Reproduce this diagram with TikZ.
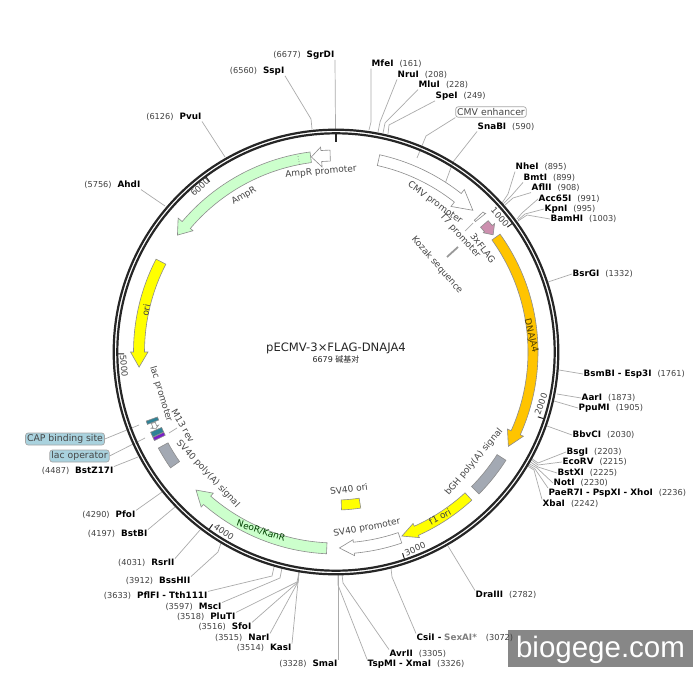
\documentclass[tikz,border=0pt]{standalone}
\usepackage{fontspec}
\setmainfont{DejaVu Sans}
\newfontfamily\cjkf{Noto Sans CJK SC}
\newfontfamily\libf{Liberation Sans}
\definecolor{lgray}{HTML}{ABABAB}
\definecolor{ringc}{HTML}{262626}
\definecolor{txtc}{HTML}{454545}
\definecolor{posc}{HTML}{404040}
\definecolor{fgreen}{HTML}{CCFFCC}
\definecolor{fyellow}{HTML}{FFFF00}
\definecolor{forange}{HTML}{FFC400}
\definecolor{fgray}{HTML}{A3A9B3}
\definecolor{fpink}{HTML}{CC8FAE}
\definecolor{fteal}{HTML}{2F8296}
\definecolor{fpurple}{HTML}{7A1FC8}
\definecolor{boxblue}{HTML}{A9D2DE}
\tikzset{
  lead/.style={draw=lgray,line width=0.7pt},
  feat/.style={draw=black!45,line width=0.6pt,line join=miter},
  ringline/.style={draw=ringc,line width=2.2pt},
  ticka/.style={draw=ringc,line width=1pt},
  enz/.style={inner sep=0.5pt,text=black,font=\fontsize{8.8}{10}\selectfont},
  flab/.style={inner sep=0pt,text=txtc,font=\fontsize{9}{11}\selectfont},
  tlab/.style={inner sep=0pt,text=txtc,font=\fontsize{8.6}{10}\selectfont},
  sitebox/.style={draw=black!35,rounded corners=2.5pt,line width=0.7pt,inner sep=1.5pt,text=txtc,font=\fontsize{9.3}{11}\selectfont,minimum height=10.5pt},
}
\newcommand{\posn}[1]{{\fontsize{8.2}{10}\selectfont\color{posc}(#1)}}
% right-hand label: id, x, y, name, pos
\newcommand{\enzR}[5]{\node[enz,anchor=west] (#1) at (#2,#3) {\textbf{#4}\hspace{6pt}\posn{#5}};}
% left-hand label: id, x, y, name, pos
\newcommand{\enzL}[5]{\node[enz,anchor=east] (#1) at (#2,#3) {\posn{#5}\hspace{6pt}\textbf{#4}};}
% connector: id, node anchor, via points, free end
\newcommand{\lk}[4]{\coordinate (#1-e) at (#4); \draw[lead] (#1.#2) #3 -- (#1-e);}
% arc arrow: colour, a1, a2, a3, Ri, Ro, Rib, Rob, Rm (angles clockwise from top)
\newcommand{\arcarrow}[9]{\draw[feat,fill=#1] ({#2-90}:#6) arc[start angle={#2-90},end angle={#3-90},radius=#6] -- ({#3-90}:#8) -- ({#4-90}:#9) -- ({#3-90}:#7) -- ({#3-90}:#5) arc[start angle={#3-90},end angle={#2-90},radius=#5] -- cycle;}
% arc block: colour, a1, a2, Ri, Ro
\newcommand{\arcblock}[5]{\draw[feat,fill=#1] ({#2-90}:#5) arc[start angle={#2-90},end angle={#3-90},radius=#5] -- ({#3-90}:#4) arc[start angle={#3-90},end angle={#2-90},radius=#4] -- cycle;}
\newcommand{\tickat}[1]{\draw[ticka] ({#1-90}:212) -- ({#1-90}:218);}
\begin{document}
\begin{tikzpicture}[x=1pt,y=-1pt]
\useasboundingbox (0,0) rectangle (700,700);
\fill[white] (0,0) rectangle (700,700);
% watermark
\fill[black!47] (508,630) rectangle (693,667);
\node[inner sep=0pt,text=white,font=\libf\fontsize{29.5}{34}\selectfont] (wm) at (600.5,650) {biogege.com};

% leaders and labels
\enzL{sgrdi}{335}{55}{SgrDI}{6677}\lk{sgrdi}{south east}{}{335.5,129}
\enzL{sspi}{285}{71}{SspI}{6560}\lk{sspi}{south east}{-- (311,119)}{312,129}
\enzL{pvui}{202}{117}{PvuI}{6126}\lk{pvui}{south east}{}{225,157}
\enzL{ahdi}{141}{185}{AhdI}{5756}\lk{ahdi}{south east}{}{165,206}
\enzR{mfei}{371}{64}{MfeI}{161}\lk{mfei}{south west}{-- (371,122)}{369,130}
\enzR{nrui}{397}{75}{NruI}{208}\lk{nrui}{south west}{-- (380,122)}{378,132}
\enzR{mlui}{418}{85}{MluI}{228}\lk{mlui}{south west}{-- (385,123)}{383,133}
\enzR{spei}{435}{96}{SpeI}{249}\lk{spei}{south west}{-- (389,125)}{388,134}
\enzR{snabi}{477}{127}{SnaBI}{590}\lk{snabi}{south west}{-- (453,162)}{442,192}
\enzR{nhei}{515}{167}{NheI}{895}\lk{nhei}{south west}{-- (508,194)}{502,203}
\enzR{bmti}{523}{178}{BmtI}{899}\lk{bmti}{south west}{-- (512,195)}{503,204}
\enzR{aflii}{531}{188}{AflII}{908}\lk{aflii}{south west}{-- (513,198)}{505,205}
\enzR{acc}{538}{199}{Acc65I}{991}\lk{acc}{west}{-- (522,213)}{517,219}
\enzR{kpni}{544}{209}{KpnI}{995}\lk{kpni}{west}{-- (525,214)}{518,220}
\enzR{bamhi}{550}{219}{BamHI}{1003}\lk{bamhi}{west}{-- (527,215)}{518,221}
\enzR{bsrgi}{572}{274}{BsrGI}{1332}\lk{bsrgi}{west}{}{548,282}
\enzR{bsmbi}{583}{374}{BsmBI - Esp3I}{1761}\lk{bsmbi}{west}{}{559,370}
\enzR{aari}{581}{398}{AarI}{1873}\lk{aari}{west}{}{557,394}
\enzR{ppumi}{578}{408}{PpuMI}{1905}\lk{ppumi}{west}{}{554,401}
\enzR{bbvci}{572}{435}{BbvCI}{2030}\lk{bbvci}{west}{}{547,426}
\enzR{bsgi}{566}{452}{BsgI}{2203}\lk{bsgi}{west}{-- (538,463)}{531,458}
\enzR{ecorv}{562}{462}{EcoRV}{2215}\lk{ecorv}{west}{-- (538,465)}{530,459}
\enzR{bstxi}{557}{473}{BstXI}{2225}\lk{bstxi}{west}{-- (538,467)}{529,461}
\enzR{noti}{553}{483}{NotI}{2230}\lk{noti}{west}{-- (537,468)}{528,463}
\enzR{paer}{548}{493}{PaeR7I - PspXI - XhoI}{2236}\lk{paer}{north west}{-- (535,469)}{527,464}
\enzR{xbai}{542}{504}{XbaI}{2242}\lk{xbai}{north west}{-- (534,470)}{526,465}
\enzR{draiii}{475}{595}{DraIII}{2782}\lk{draiii}{north west}{}{448,546}
\node[enz,anchor=west] (csii) at (416,638) {\textbf{CsiI -} \textcolor{black!50}{\textbf{SexAI*}}\hspace{9pt}\posn{3072}};
\lk{csii}{north west}{-- (392,577)}{391,568}
\enzR{avrii}{389}{654}{AvrII}{3305}\lk{avrii}{north west}{-- (343,583)}{342,574}
\enzR{tspmi}{367}{664}{TspMI - XmaI}{3326}\lk{tspmi}{north west}{-- (338,585)}{338,575}
\enzL{smai}{338}{664}{SmaI}{3328}\lk{smai}{north east}{}{338,575}
\enzL{kasi}{292}{648}{KasI}{3514}\lk{kasi}{north east}{-- (298,582)}{299,572}
\enzL{nari}{270}{638}{NarI}{3515}\lk{nari}{north east}{-- (298,582)}{299,572}
\enzL{sfoi}{252}{627}{SfoI}{3516}\lk{sfoi}{north east}{-- (298,582)}{299,572}
\enzL{pluti}{236}{617}{PluTI}{3518}\lk{pluti}{north east}{-- (297,582)}{299,572}
\enzL{msci}{222}{607}{MscI}{3597}\lk{msci}{north east}{-- (280,578)}{282,568}
\enzL{pflfi}{208}{596}{PflFI - Tth111I}{3633}\lk{pflfi}{north east}{-- (272,576)}{274,567}
\enzL{bsshii}{191}{581}{BssHII}{3912}\lk{bsshii}{north east}{-- (218,552)}{221,543}
\enzL{rsrii}{175}{563}{RsrII}{4031}\lk{rsrii}{north east}{}{200,530}
\enzL{bstbi}{148}{534}{BstBI}{4197}\lk{bstbi}{north east}{}{175,507}
\enzL{pfoi}{136}{515}{PfoI}{4290}\lk{pfoi}{north east}{}{162,492}
\enzL{bstz}{114}{471}{BstZ17I}{4487}\lk{bstz}{north east}{}{138,457}

% boxed site labels
\node[sitebox,fill=white,anchor=center] (cmve) at (491,112) {CMV enhancer};
\lk{cmve}{south west}{-- (426,136)}{417,158}
\node[sitebox,fill=boxblue,anchor=center] (cap) at (65,439) {CAP binding site};
\lk{cap}{east}{}{139,425}
\node[sitebox,fill=boxblue,anchor=center] (laco) at (79.5,456) {lac operator};
\lk{laco}{east}{}{145,438}

% backbone
\node[circle,inner sep=0pt,minimum size=0pt] (ctr) at (336,352) {};
\draw[ringline] (ctr) circle[radius=222.3];
\draw[ringline] (ctr) circle[radius=218.7];
\draw[draw=ringc,line width=2pt] (336,133) -- (336,142);

\begin{scope}[shift={(336,352)}]
\tickat{53.9}\tickat{107.8}\tickat{161.7}\tickat{215.6}\tickat{269.5}\tickat{323.4}
% features
\arcarrow{white}{12.5}{38.3}{44}{191}{202}{185.5}{207}{197}
\arcarrow{white}{46.4}{46.9}{47.2}{191}{203}{190.5}{203.5}{204}
\arcarrow{fpink}{49.2}{51}{53.3}{191}{201}{189.5}{204}{196}
\arcarrow{forange}{54.3}{114.2}{118.7}{192}{202}{188}{205.5}{196.5}
\arcblock{fgray}{122.5}{134.8}{191}{201.5}
\arcarrow{fyellow}{137.5}{155.8}{160.3}{191}{201}{188}{203.5}{195.5}
\arcarrow{white}{161}{174.8}{179}{191}{202}{188.5}{204.5}{196}
\arcblock{fyellow}{171}{178}{148}{158}
\arcarrow{fgreen}{182.7}{221}{225.4}{191}{202}{187}{205.5}{196.6}
\arcblock{fgray}{235}{241.6}{191}{202}
\arcblock{fpurple}{244}{245}{190}{202}
\arcblock{fteal}{245.1}{246.6}{190}{202}
\arcarrow{white}{248.8}{247.6}{246.9}{194}{198}{192}{200}{196}
\arcblock{fteal}{249}{250}{190}{202}
\arcarrow{fyellow}{297.3}{270}{265.6}{191.5}{202.5}{188}{205.5}{197.5}
\arcarrow{fgreen}{352.6}{310.3}{306.4}{191}{201.7}{187.5}{207}{197}
\arcarrow{white}{358.3}{355.7}{352.8}{191}{202}{185.6}{205.5}{196.6}
\draw[black!55,dotted,line width=0.6pt] (259:191) -- (259:201);
\end{scope}

% small connectors and marks
\coordinate (koza) at (447,257); \coordinate (kozb) at (458,247);
\draw[draw=black!40,line width=1.8pt] (koza) -- (kozb);
\coordinate (t7a) at (465,231); \coordinate (t7b) at (473,223);
\draw[lead] (t7a) -- (t7b);
\coordinate (m13a) at (177,428); \coordinate (m13b) at (169,433);
\draw[lead] (m13a) -- (m13b);

% scale numbers
\node[tlab,rotate=-48] (t1) at (500,217) {1000};
\node[tlab,rotate=70] (t2) at (541,404) {2000};
\node[tlab,rotate=24] (t3) at (415,549) {3000};
\node[tlab,rotate=-35] (t4) at (224,532) {4000};
\node[tlab,rotate=-85] (t5) at (124,366) {5000};
\node[tlab,rotate=43] (t6) at (200,187) {6000};

% feature names
\node[flab,rotate=5] (l1) at (321,172) {AmpR promoter};
\node[flab,rotate=30] (l2) at (244,196) {AmpR};
\node[flab,rotate=-36] (l3) at (435,203) {CMV promoter};
\node[flab,rotate=-48] (l4) at (460,236) {T7 promoter};
\node[flab,rotate=-52] (l5) at (483,248) {3xFLAG};
\node[flab,rotate=-49] (l6) at (437,265) {Kozak sequence};
\node[flab,rotate=-76,text=black!70!forange] (l7) at (531,336) {DNAJA4};
\node[flab,rotate=50] (l8) at (474,462) {bGH poly(A) signal};
\node[flab,rotate=28,text=black!75] (l9) at (440,517) {f1 ori};
\node[flab,rotate=11] (l10) at (367,528) {SV40 promoter};
\node[flab,rotate=8] (l11) at (349,489) {SV40 ori};
\node[flab,rotate=-18,text=black!75!green] (l12) at (261,531) {NeoR/KanR};
\node[flab,rotate=-47] (l13) at (208,474) {SV40 poly(A) signal};
\node[flab,rotate=-60] (l14) at (183,426) {M13 rev};
\node[flab,rotate=-73] (l15) at (161,394) {lac promoter};
\node[flab,rotate=78,text=black!75] (l16) at (146,310) {ori};

% centre title
\node[inner sep=0pt,text=black!85,font=\fontsize{11.6}{13}\selectfont] (title) at (336,348) {pECMV-3×FLAG-DNAJA4};
\node[inner sep=0pt,text=black!85,font=\fontsize{8}{10}\selectfont] (size) at (336,359) {6679 {\cjkf 碱基对}};
\end{tikzpicture}
\end{document}
